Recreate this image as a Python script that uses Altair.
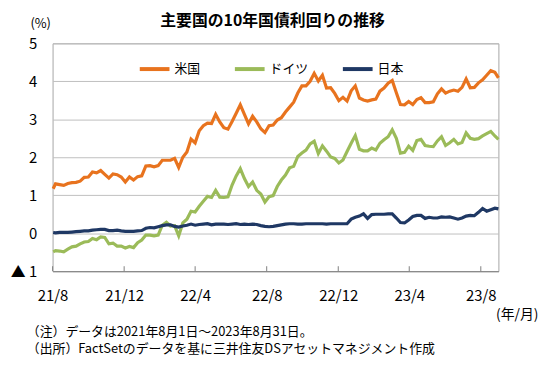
import altair as alt
import pandas as pd

# ---------------- data (weekly readings, %) ----------------
countries = ["米国", "ドイツ", "日本"]
colors = ["#E8731E", "#9BBB59", "#1F3864"]

weekly = pd.date_range("2021-08-06", "2023-08-25", freq="W-FRI")
dates = ["2021-08-02"] + [d.strftime("%Y-%m-%d") for d in weekly] + ["2023-08-31"]

us_vals = [
    1.17,
    # 2021 Aug-Dec
    1.30, 1.28, 1.26, 1.31, 1.33, 1.34, 1.37, 1.47, 1.48, 1.61, 1.59, 1.65, 1.55,
    1.45, 1.56, 1.54, 1.48, 1.35, 1.48, 1.40, 1.49, 1.51,
    # 2022
    1.77, 1.78, 1.75, 1.78, 1.92, 1.92, 1.92, 1.97, 1.73, 2.00, 2.14, 2.48,
    2.38, 2.70, 2.83, 2.90, 2.89, 3.13, 2.93, 2.78, 2.74, 2.94, 3.16, 3.38, 3.13,
    2.88, 3.08, 2.93, 2.75, 2.65, 2.83, 2.85, 2.98, 3.04, 3.19, 3.32, 3.45, 3.69,
    3.88, 3.88, 4.00, 4.21, 4.01, 4.16, 3.82, 3.83, 3.68, 3.49, 3.58, 3.48, 3.75, 3.88,
    # 2023
    3.56, 3.51, 3.48, 3.51, 3.53, 3.74, 3.82, 3.95, 4.02, 3.70, 3.39, 3.38, 3.47,
    3.39, 3.52, 3.57, 3.44, 3.44, 3.46, 3.67, 3.80, 3.69, 3.74, 3.77, 3.74, 3.84,
    4.06, 3.83, 3.84, 3.96, 4.04, 4.16, 4.28, 4.24,
    4.09,
]

de_vals = [
    -0.49,
    # 2021 Aug-Dec
    -0.46, -0.47, -0.49, -0.42, -0.36, -0.34, -0.28, -0.23, -0.22, -0.14, -0.17, -0.10, -0.11,
    -0.28, -0.26, -0.34, -0.34, -0.39, -0.35, -0.38, -0.25, -0.18,
    # 2022
    -0.05, -0.05, -0.07, -0.05, 0.21, 0.29, 0.19, 0.20, -0.07, 0.27, 0.37, 0.58,
    0.56, 0.71, 0.84, 0.97, 0.94, 1.13, 0.95, 0.94, 0.96, 1.27, 1.51, 1.70, 1.44,
    1.23, 1.35, 1.13, 1.03, 0.82, 0.96, 0.99, 1.23, 1.40, 1.53, 1.72, 1.76, 2.02,
    2.11, 2.19, 2.35, 2.42, 2.10, 2.30, 2.16, 2.01, 1.97, 1.85, 1.93, 2.15, 2.37, 2.57,
    # 2023
    2.21, 2.17, 2.17, 2.24, 2.19, 2.37, 2.46, 2.54, 2.72, 2.50, 2.11, 2.13, 2.29,
    2.18, 2.44, 2.47, 2.31, 2.29, 2.28, 2.43, 2.54, 2.31, 2.38, 2.47, 2.35, 2.39,
    2.64, 2.50, 2.47, 2.49, 2.56, 2.62, 2.68, 2.56,
    2.47,
]

jp_vals = [
    0.02,
    # 2021 Aug-Dec
    0.01, 0.02, 0.02, 0.02, 0.03, 0.04, 0.05, 0.06, 0.06, 0.08, 0.09, 0.10, 0.10,
    0.07, 0.07, 0.08, 0.06, 0.05, 0.05, 0.05, 0.06, 0.07,
    # 2022
    0.13, 0.15, 0.14, 0.17, 0.20, 0.22, 0.22, 0.18, 0.16, 0.19, 0.21, 0.24,
    0.21, 0.23, 0.24, 0.25, 0.22, 0.24, 0.24, 0.24, 0.23, 0.24, 0.25, 0.23, 0.24,
    0.23, 0.24, 0.23, 0.20, 0.18, 0.17, 0.18, 0.20, 0.22, 0.24, 0.25, 0.25, 0.24,
    0.24, 0.25, 0.25, 0.25, 0.25, 0.25, 0.24, 0.25, 0.25, 0.25, 0.25, 0.25, 0.37, 0.42,
    # 2023
    0.45, 0.51, 0.39, 0.49, 0.50, 0.50, 0.50, 0.51, 0.51, 0.40, 0.28, 0.27, 0.35,
    0.44, 0.47, 0.47, 0.39, 0.42, 0.40, 0.40, 0.43, 0.42, 0.43, 0.40, 0.37, 0.40,
    0.45, 0.47, 0.46, 0.55, 0.65, 0.58, 0.62, 0.66,
    0.64,
]

tick_dates = ["2021-08-01", "2021-12-01", "2022-04-01", "2022-08-01",
              "2022-12-01", "2023-04-01", "2023-08-01"]
y_ticks = [-1, 0, 1, 2, 3, 4, 5]

title_text = "主要国の10年国債利回りの推移"
unit_y = "(%)"
unit_x = "(年/月)"
note_lines = ["（注）データは2021年8月1日～2023年8月31日。",
              "（出所）FactSetのデータを基に三井住友DSアセットマネジメント作成"]

assert len(dates) == len(us_vals) == len(de_vals) == len(jp_vals)

rows = []
for name, vals in zip(countries, [us_vals, de_vals, jp_vals]):
    for d, v in zip(dates, vals):
        rows.append({"date": d, "country": name, "value": v})
df = pd.DataFrame(rows)

# ---------------- chart ----------------
FONT = "Noto Sans CJK JP"
W, H = 450, 230

xscale = alt.Scale(
    type="utc",
    domain=[alt.DateTime(year=2021, month=8, date=1, utc=True),
            alt.DateTime(year=2023, month=8, date=31, utc=True)],
)
tick_vals = [alt.DateTime(year=int(t[:4]), month=int(t[5:7]), date=1, utc=True) for t in tick_dates]

lines = alt.Chart(df).mark_line(strokeWidth=3.2).encode(
    x=alt.X("date:T", scale=xscale, title=None,
            axis=alt.Axis(values=tick_vals, labelExpr="utcFormat(datum.value, '%y/%-m')",
                          grid=False, ticks=False, domain=True, domainColor="#808080",
                          labelFontSize=15, labelFont=FONT, labelColor="#000000",
                          labelPadding=18, labelFlush=False)),
    y=alt.Y("value:Q", scale=alt.Scale(domain=[-1, 5], nice=False, zero=False), title=None,
            axis=alt.Axis(values=y_ticks,
                          labelExpr="datum.value < 0 ? '▲ ' + (-datum.value) : datum.value",
                          grid=True, gridColor="#BFBFBF", gridWidth=1, ticks=False,
                          domain=False, labelFontSize=15, labelFont=FONT,
                          labelColor="#000000", labelPadding=16)),
    color=alt.Color("country:N", sort=countries,
                    scale=alt.Scale(domain=countries, range=colors),
                    legend=alt.Legend(orient="none", legendX=86, legendY=9,
                                      direction="horizontal", title=None,
                                      symbolType="stroke", symbolSize=900,
                                      symbolStrokeWidth=4, labelFontSize=13,
                                      labelFont=FONT, labelColor="#000000",
                                      columnPadding=26, labelOffset=3)),
)

ticks_df = pd.DataFrame({"date": tick_dates})
ticks = alt.Chart(ticks_df).mark_rule(color="#808080", strokeWidth=1).encode(
    x=alt.X("date:T", scale=xscale),
    y=alt.value(H),
    y2=alt.value(H - 5),
)

def text_layer(txt, x, y, size=14, weight="normal", align="center"):
    return alt.Chart(pd.DataFrame({"t": [txt]})).mark_text(
        font=FONT, fontSize=size, fontWeight=weight, align=align,
        baseline="middle", color="#000000"
    ).encode(text="t:N", x=alt.value(x), y=alt.value(y))

title = text_layer(title_text, 222, -22, size=16, weight="bold")
ylab = text_layer(unit_y, -12, -19, size=13)
xlab = text_layer(unit_x, 469, 274, size=14)
note1 = text_layer(note_lines[0], -26, 291, size=13, align="left")
note2 = text_layer(note_lines[1], -26, 309, size=13, align="left")

chart = alt.layer(lines, ticks, title, ylab, xlab, note1, note2).properties(
    width=W, height=H,
    autosize=alt.AutoSizeParams(type="none"),
    padding={"left": 45, "top": 34, "right": 44, "bottom": 88},
    background="white",
).configure_view(stroke="#A6A6A6", strokeWidth=1)

chart.save("out.html", embed_options={"renderer": "svg", "actions": False})
